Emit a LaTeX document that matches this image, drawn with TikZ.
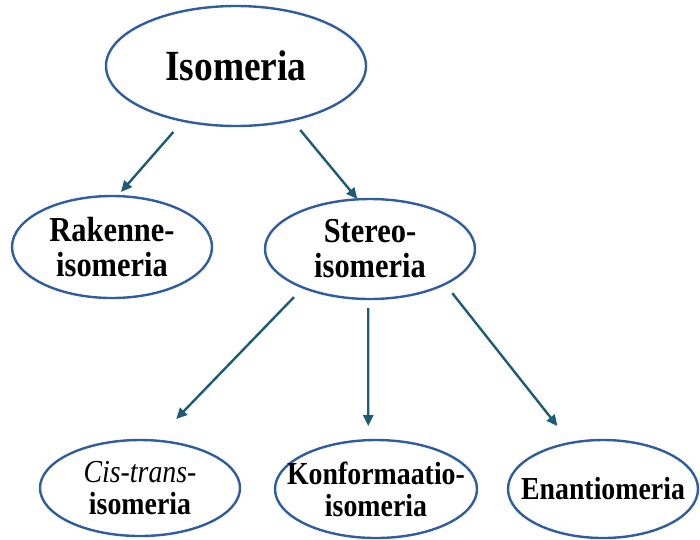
\documentclass[tikz,border=0pt]{standalone}
\usepackage{fontspec}
\setmainfont{Liberation Serif}[FakeStretch=0.87]
\usetikzlibrary{arrows.meta,shapes.geometric}
\definecolor{ellblue}{RGB}{48,92,160}
\definecolor{arrteal}{RGB}{30,92,118}

\begin{document}
\begin{tikzpicture}[
  x=1pt, y=-1pt,
  ell/.style={draw=ellblue, line width=2.4pt, ellipse, outer sep=0pt, inner xsep=-30pt, align=center},
  big/.style={font=\fontsize{43}{46}\selectfont\bfseries},
  mid/.style={font=\fontsize{35}{35}\selectfont\bfseries},
  small/.style={font=\fontsize{32}{32}\selectfont\bfseries},
  arr/.style={-{Triangle[length=11pt,width=10pt]}, draw=arrteal, line width=2.4pt}
]
\useasboundingbox (0,0) rectangle (700,539);
\node[ell, big, minimum width=260pt, minimum height=120pt] (iso) at (236,66) {Isomeria};
\node[ell, mid, minimum width=200pt, minimum height=102pt] (rak) at (112,247) {Rakenne-\\isomeria};
\node[ell, mid, minimum width=210pt, minimum height=100pt] (ste) at (370,249) {Stereo-\\isomeria};
\draw[arr, shorten <=14.8pt, shorten >=5.5pt] (iso.226) -- (rak.84);
\draw[arr, shorten <=12.8pt, shorten >=0.5pt] (iso.316) -- (ste.104);
\node[ell, small, minimum width=200pt, minimum height=96pt] (cis) at (140,488) {{\mdseries\itshape Cis-trans-}\\isomeria};
\node[ell, small, minimum width=202pt, minimum height=98pt] (kon) at (376,489) {Konformaatio-\\isomeria};
\node[ell, small, minimum width=190pt, minimum height=98pt] (ena) at (603,489) {Enantiomeria};
\draw[arr, shorten <=13.2pt, shorten >=29.9pt] (ste.210) -- (cis.72);
\draw[arr, shorten <=9pt, shorten >=14pt] (ste.268) -- (kon.99);
\draw[arr, shorten <=11.7pt, shorten >=21.5pt] (ste.335) -- (ena.125);
\end{tikzpicture}
\end{document}
